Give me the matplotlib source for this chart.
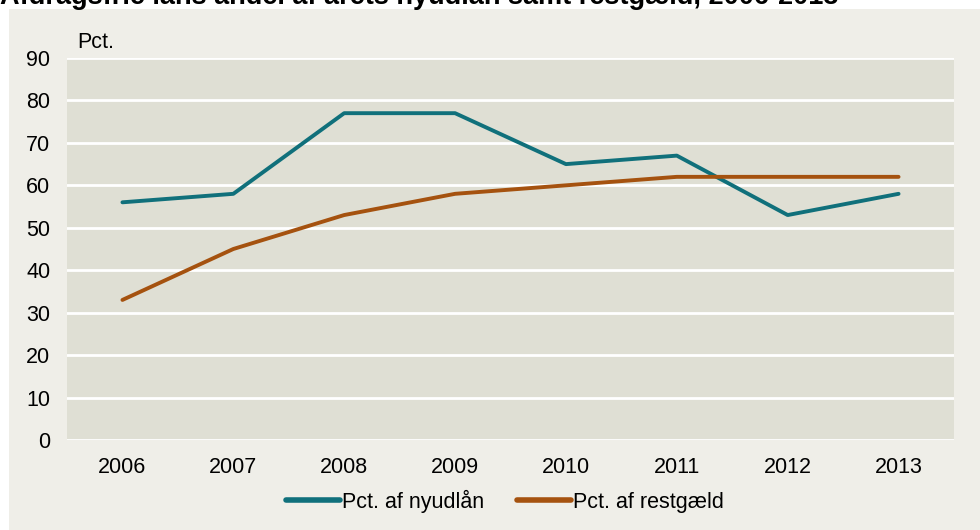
import matplotlib
matplotlib.use("Agg")
import matplotlib.pyplot as plt
from matplotlib.patches import Rectangle

years = ["2006", "2007", "2008", "2009", "2010", "2011", "2012", "2013"]
nyudlaan = [56, 58, 77, 77, 65, 67, 53, 58]
restgaeld = [33, 45, 53, 58, 60, 62, 62, 62]
yticks = [0, 10, 20, 30, 40, 50, 60, 70, 80, 90]

plt.rcParams['font.family'] = ['Liberation Sans', 'DejaVu Sans']

W, H = 980, 530
fig = plt.figure(figsize=(9.8, 5.3), dpi=100, facecolor='white')
fig.patches.append(Rectangle((9 / W, 0), 1 - 9 / W, 1 - 9 / H, transform=fig.transFigure,
                             facecolor='#efeee8', edgecolor='none', zorder=-10))

ax = fig.add_axes([67 / W, 1 - 440 / H, (954 - 67) / W, (440 - 58) / H])
ax.set_zorder(5)
ax.set_facecolor('#dfdfd4')
for s in ax.spines.values():
    s.set_visible(False)

x = list(range(len(years)))
ax.plot(x, nyudlaan, color='#10707b', lw=2.8, label='Pct. af nyudlån', solid_capstyle='round', zorder=3)
ax.plot(x, restgaeld, color='#a5520f', lw=2.8, label='Pct. af restgæld', solid_capstyle='round', zorder=3)

ax.set_xlim(-0.5, len(years) - 0.5)
ax.set_ylim(0, 90)
ax.set_yticks(yticks)
ax.set_yticklabels([str(v) for v in yticks])
ax.set_xticks(x)
ax.set_xticklabels(years)
ax.tick_params(axis='both', length=0, labelsize=15.5, colors='black')
ax.tick_params(axis='y', pad=12)
ax.tick_params(axis='x', pad=12)
ax.yaxis.grid(True, color='white', lw=2)
ax.set_axisbelow(True)

fig.text(77 / W, 1 - 43 / H, 'Pct.', fontsize=15.5, ha='left', va='center', zorder=10)
fig.text(0, 1 - 4 / H, 'Afdragsfrie låns andel af årets nyudlån samt restgæld, 2006-2013',
         fontsize=19.5, fontweight='bold', ha='left', va='baseline', zorder=10)

leg = fig.legend(loc='center', bbox_to_anchor=(505 / W, 1 - 501 / H), ncol=2, frameon=False,
                 fontsize=15.5, handlelength=2.5, handletextpad=0.1, columnspacing=1.5)
leg.set_zorder(10)
for l in leg.get_lines():
    l.set_linewidth(4)

fig.savefig('out.png', dpi=100, facecolor=fig.get_facecolor())
